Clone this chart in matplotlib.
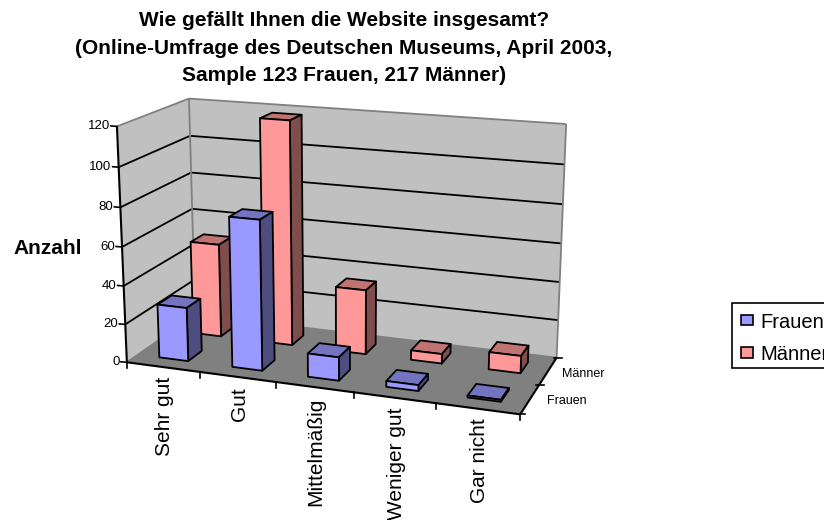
import numpy as np
import matplotlib
matplotlib.use('Agg')
import matplotlib.pyplot as plt
from matplotlib.patches import Polygon, Rectangle

plt.rcParams['font.family'] = ['Liberation Sans', 'DejaVu Sans']

categories = ['Sehr gut', 'Gut', 'Mittelmäßig', 'Weniger gut', 'Gar nicht']
series = ['Frauen', 'Männer']
frauen = [28, 77, 12, 3, 1]
maenner = [50, 118, 34, 5, 9]
y_ticks = [0, 20, 40, 60, 80, 100, 120]

title = ('Wie gefällt Ihnen die Website insgesamt?\n'
         '(Online-Umfrage des Deutschen Museums, April 2003,\n'
         'Sample 123 Frauen, 217 Männer)')

# Ecken des Diagrammwürfels: (x, y, z) -> Pixel, z=0 vorne, z=1 hinten
corners = [
    ((0, 0, 0), (128, 363)),
    ((1, 0, 0), (520, 414)),
    ((1, 0, 1), (557, 358)),
    ((0, 0, 1), (194, 314)),
    ((0, 1, 0), (116, 126)),
    ((0, 1, 1), (190, 99)),
    ((1, 1, 1), (566, 124)),
]

# Kameramatrix per Ausgleichsrechnung
A, b = [], []
for (X, Y, Z), (u, v) in corners:
    A.append([X, Y, Z, 1, 0, 0, 0, 0, -u * X, -u * Y, -u * Z])
    A.append([0, 0, 0, 0, X, Y, Z, 1, -v * X, -v * Y, -v * Z])
    b += [u, v]
P = np.append(np.linalg.lstsq(np.array(A, float), np.array(b, float), rcond=None)[0], 1).reshape(3, 4)


def proj(x, y, z):
    p = P @ np.array([x, y / 120, z, 1])
    return p[0] / p[2], p[1] / p[2]


fig = plt.figure(figsize=(8.24, 5.2), dpi=100)
ax = fig.add_axes([0, 0, 1, 1])
ax.set_xlim(0, 824)
ax.set_ylim(520, 0)
ax.axis('off')


def face(pts, color, ec='none', lw=0, z=1):
    ax.add_patch(Polygon([proj(*q) for q in pts], closed=True, facecolor=color, edgecolor=ec,
                         linewidth=lw, joinstyle='round', zorder=z))


def line(a, b, color='black', lw=1.3, z=2):
    pa, pb = proj(*a), proj(*b)
    ax.plot([pa[0], pb[0]], [pa[1], pb[1]], color=color, lw=lw, zorder=z, solid_capstyle='butt')


# Wände und Boden
face([(0, 0, 0), (0, 120, 0), (0, 120, 1), (0, 0, 1)], '#c0c0c0')
face([(0, 0, 1), (0, 120, 1), (1, 120, 1), (1, 0, 1)], '#c0c0c0')
face([(0, 0, 0), (1, 0, 0), (1, 0, 1), (0, 0, 1)], '#808080')

for t in y_ticks[1:-1]:
    line((0, t, 0), (0, t, 1))
    line((0, t, 1), (1, t, 1))
line((0, 120, 0), (0, 120, 1), '#808080')
line((0, 120, 1), (1, 120, 1), '#808080')
line((0, 0, 1), (0, 120, 1), '#808080')
line((1, 0, 1), (1, 120, 1), '#808080')
line((0, 0, 1), (1, 0, 1), '#808080')
line((0, 0, 0), (0, 0, 1), '#808080')

# Achsen
line((0, 0, 0), (0, 120, 0), lw=1.5, z=2.5)
line((0, 0, 0), (1, 0, 0), lw=1.5, z=2.5)
line((1, 0, 0), (1, 0, 1), lw=1.5, z=2.5)

for t in y_ticks:
    x0, y0 = proj(0, t, 0)
    ax.plot([x0 - 6, x0], [y0 - 0.5, y0], color='black', lw=1.2, zorder=2.5)
    ax.text(x0 - 7, y0, str(t), ha='right', va='center', fontsize=9.5, color='black')

for i in range(len(categories) + 1):
    x0, y0 = proj(i / 5, 0, 0)
    ax.plot([x0, x0], [y0, y0 + 6], color='black', lw=1.2, zorder=2.5)
for i, c in enumerate(categories):
    x0, y0 = proj((i + 0.5) / 5, 0, 0)
    ax.text(x0 + 1.5, y0 + 10, c, rotation=90, ha='center', va='top', fontsize=15, clip_on=True)

x0, y0 = proj(1, 0, 0.75)
ax.text(x0 + 14, y0 + 3, series[1], ha='left', va='center', fontsize=9)
x0, y0 = proj(1, 0, 0.25)
ax.text(x0 + 17, y0 + 2, series[0], ha='left', va='center', fontsize=9)
x0, y0 = proj(1, 0, 0.5)
ax.plot([x0 - 3, x0 + 5], [y0, y0], color='black', lw=1.2)
x0, y0 = proj(1, 0, 1)
ax.plot([x0 - 3, x0 + 5], [y0, y0], color='black', lw=1.2)
x0, y0 = proj(1, 0, 0)
ax.plot([x0 - 3, x0 + 5], [y0, y0], color='black', lw=1.2)


def bar3d(i, z0, z1, h, front, top, side, z):
    x0, x1 = (i + 0.3) / 5, (i + 0.7) / 5
    kw = dict(ec='black', lw=1.3, z=z)
    face([(x0, h, z0), (x1, h, z0), (x1, h, z1), (x0, h, z1)], top, **kw)
    face([(x1, 0, z0), (x1, h, z0), (x1, h, z1), (x1, 0, z1)], side, **kw)
    face([(x0, 0, z0), (x1, 0, z0), (x1, h, z0), (x0, h, z0)], front, **kw)


for i, h in enumerate(maenner):
    bar3d(i, 0.65, 0.85, h, '#ff9999', '#bf7373', '#804d4d', 3 + i * 0.1)
for i, h in enumerate(frauen):
    bar3d(i, 0.15, 0.35, h, '#9999ff', '#7373bf', '#4d4d80', 4 + i * 0.1)

ax.text(344, 48, title, ha='center', va='center', fontsize=15, fontweight='bold', linespacing=1.56)
ax.text(13, 249, 'Anzahl', ha='left', va='center', fontsize=15, fontweight='bold')

# Legende, rechts vom Bildrand abgeschnitten
ax.add_patch(Rectangle((732, 303), 120, 65, facecolor='white', edgecolor='black', lw=1.2, zorder=5))
ax.add_patch(Rectangle((741, 315), 12, 10, facecolor='#9999ff', edgecolor='black', lw=1.2, zorder=6))
ax.add_patch(Rectangle((741, 347), 12, 11, facecolor='#ff9999', edgecolor='black', lw=1.2, zorder=6))
ax.text(760, 323, series[0], va='center', ha='left', fontsize=14.5, zorder=6, clip_on=True)
ax.text(760, 354, series[1], va='center', ha='left', fontsize=14.5, zorder=6, clip_on=True)

fig.savefig('out.png', dpi=100)
